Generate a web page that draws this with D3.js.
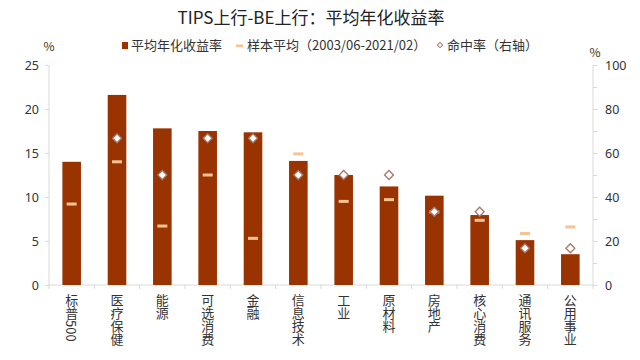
<!DOCTYPE html>
<html><head><meta charset="utf-8">
<script src="https://cdn.jsdelivr.net/npm/d3@7"></script>
<style>
body{margin:0;background:#fff;}
svg{display:block;font-family:"Noto Sans CJK SC","Noto Sans",sans-serif;}
</style></head>
<body><svg id="c" width="640" height="360"></svg>
<script>
const categories = ["标普500","医疗保健","能源","可选消费","金融","信息技术","工业","原材料","房地产","核心消费","通讯服务","公用事业"];
const avgReturn = [14.0, 21.6, 17.8, 17.5, 17.35, 14.1, 12.5, 11.2, 10.15, 7.95, 5.1, 3.5];
const sampleAvg = [9.2, 14.0, 6.7, 12.5, 5.3, 14.9, 9.5, 9.7, 8.3, 7.35, 5.85, 6.6];
const hitRate = [null, 66.7, 50, 66.7, 66.7, 50, 50, 50, 33.3, 33.3, 16.7, 16.7];
const leftTicks = [0,5,10,15,20,25];
const rightTicks = [0,20,40,60,80,100];
const title = "TIPS上行-BE上行：平均年化收益率";
const legendLabels = ["平均年化收益率","样本平均（2003/06-2021/02）","命中率（右轴）"];

const barColor = "#993300", meanColor = "#f8c394", diamondStroke = "#a6786b", axisColor = "#d9d9d9", textColor = "#333";
const svg = d3.select("#c");
const L = 49, R = 593, T = 65, B = 285;

const x = d3.scaleBand().domain(categories).range([L, R]).paddingInner(0.59).paddingOuter(0.295);
const yL = d3.scaleLinear().domain([0,25]).range([B,T]);
const yR = d3.scaleLinear().domain([0,100]).range([B,T]);

// title
svg.append("text").attr("x",311).attr("y",24).attr("text-anchor","middle")
  .attr("font-size",17).attr("fill","#222").text(title);

// axes
const gL = svg.append("g").attr("transform",`translate(${L},0)`)
  .call(d3.axisLeft(yL).tickValues(leftTicks).tickSize(4).tickPadding(6));
const gR = svg.append("g").attr("transform",`translate(${R},0)`)
  .call(d3.axisRight(yR).tickValues(d3.range(0,101,10)).tickSize(4).tickPadding(8)
    .tickFormat(d => rightTicks.includes(d) ? d : ""));
[gL,gR].forEach(g=>{
  g.select(".domain").attr("stroke",axisColor).attr("d", g===gL ? `M0,${B}V${T}` : `M0,${B}V${T}`);
  g.selectAll(".tick line").attr("stroke",axisColor);
  g.selectAll(".tick text").attr("fill",textColor).attr("font-size",12.5).attr("font-family","Noto Sans,sans-serif");
});
svg.append("text").attr("x",49).attr("y",51).attr("text-anchor","middle").attr("font-size",12).attr("fill",textColor).text("%");
svg.append("text").attr("x",595).attr("y",57).attr("text-anchor","middle").attr("font-size",12).attr("fill",textColor).text("%");

// x axis
svg.append("line").attr("x1",L).attr("x2",R).attr("y1",B).attr("y2",B).attr("stroke",axisColor);
const bounds = categories.map(c => x(c) - x.step()*x.paddingInner()/2).concat([R]);
svg.selectAll(".xt").data(bounds).join("line").attr("class","xt")
  .attr("x1",d=>d).attr("x2",d=>d).attr("y1",B).attr("y2",B+4).attr("stroke",axisColor);
svg.selectAll(".xl").data(categories).join("text").attr("class","xl")
  .attr("x",d=>x(d)+x.bandwidth()/2).attr("y",294)
  .style("writing-mode","vertical-rl").style("text-orientation","mixed")
  .attr("font-size",13).attr("fill",textColor).text(d=>d);

// bars
svg.selectAll(".bar").data(categories).join("rect").attr("class","bar")
  .attr("x",d=>x(d)).attr("width",x.bandwidth())
  .attr("y",(d,i)=>yL(avgReturn[i])).attr("height",(d,i)=>B-yL(avgReturn[i]))
  .attr("fill",barColor);
// means
svg.selectAll(".mean").data(categories).join("rect").attr("class","mean")
  .attr("x",d=>x(d)+x.bandwidth()/2-5).attr("width",10)
  .attr("y",(d,i)=>yL(sampleAvg[i])-1.5).attr("height",3)
  .attr("fill",meanColor);
// diamonds
const diamond = d3.symbol().type(d3.symbolSquare).size(40);
svg.selectAll(".hit").data(categories.map((c,i)=>({c,v:hitRate[i]})).filter(d=>d.v!=null)).join("path").attr("class","hit")
  .attr("transform",d=>`translate(${x(d.c)+x.bandwidth()/2},${yR(d.v)}) rotate(45)`)
  .attr("d",diamond).attr("fill","#fff").attr("stroke",diamondStroke).attr("stroke-width",1.3);

// legend
const lg = svg.append("g");
lg.append("rect").attr("x",122).attr("y",42).attr("width",6).attr("height",7).attr("fill",barColor);
lg.append("text").attr("x",131).attr("y",50).attr("font-size",13).attr("fill",textColor).text(legendLabels[0]);
lg.append("rect").attr("x",236).attr("y",44.5).attr("width",7).attr("height",2.5).attr("fill",meanColor);
lg.append("text").attr("x",247).attr("y",50).attr("font-size",13).attr("fill",textColor).text(legendLabels[1]);
lg.append("path").attr("transform","translate(440,45) rotate(45)").attr("d",d3.symbol().type(d3.symbolSquare).size(14))
  .attr("fill","#fff").attr("stroke",diamondStroke).attr("stroke-width",1);
lg.append("text").attr("x",447).attr("y",50).attr("font-size",13).attr("fill",textColor).text(legendLabels[2]);
</script></body></html>
